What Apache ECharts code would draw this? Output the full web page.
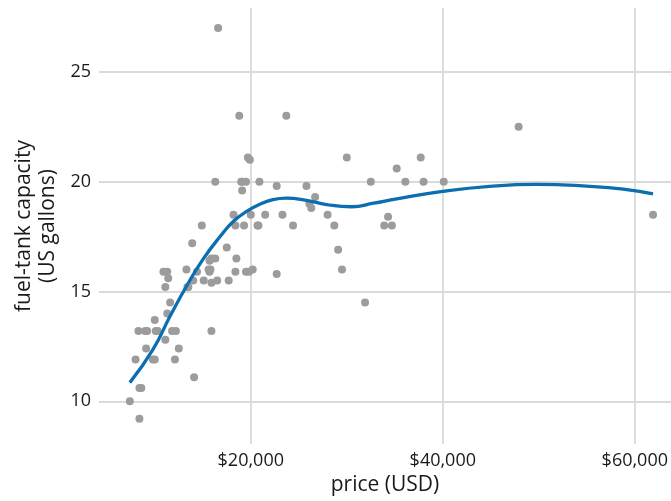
<!DOCTYPE html>
<html>
<head>
<meta charset="utf-8">
<script src="https://cdn.jsdelivr.net/npm/echarts@6/dist/echarts.min.js"></script>
<style>
html,body{margin:0;padding:0;background:#fff;}
#chart{width:671px;height:501px;}
</style>
</head>
<body>
<div id="chart"></div>
<script>
// Cars93: price (thousands USD) and fuel-tank capacity (US gallons)
const price = [15.9,33.9,29.1,37.7,30.0,15.7,20.8,23.7,26.3,34.7,40.1,13.4,11.4,15.1,15.9,16.3,16.6,18.8,38.0,18.4,15.8,29.5,9.2,11.3,13.3,19.0,15.6,25.8,12.2,19.3,7.4,10.1,11.3,15.9,14.0,19.9,20.2,20.9,8.4,12.5,19.8,12.1,17.5,8.0,10.0,10.0,13.9,47.9,28.0,35.2,34.3,36.1,8.3,11.6,16.5,19.1,32.5,31.9,61.9,14.1,14.9,10.3,26.1,11.8,15.7,19.1,21.5,13.5,16.3,19.5,20.7,14.4,9.0,11.1,17.7,18.5,24.4,28.7,11.1,8.4,10.9,19.5,8.6,9.8,18.4,18.2,22.7,9.1,19.7,20.0,23.3,22.7,26.7];
const fuelTank = [13.2,18.0,16.9,21.1,21.1,16.4,18.0,23.0,18.8,18.0,20.0,15.2,15.6,15.5,16.5,20.0,27.0,23.0,20.0,18.0,16.0,16.0,13.2,14.0,16.0,20.0,16.0,19.8,13.2,18.0,10.0,13.2,15.9,15.4,15.5,21.0,16.0,20.0,10.6,12.4,15.9,11.9,17.0,11.9,13.7,11.9,17.2,22.5,18.5,20.6,18.4,20.0,13.2,14.5,15.5,19.6,20.0,14.5,18.5,11.1,18.0,13.2,19.0,13.2,15.9,20.0,18.5,15.2,16.5,20.0,18.0,15.9,13.2,15.2,15.5,16.5,18.0,18.0,12.8,9.2,15.9,15.9,10.6,11.9,15.9,18.5,19.8,12.4,21.1,18.5,18.5,15.8,19.3];
// smoothed trend
const smoothPrice = [7.4,9.8,11.6,13.3,15.0,16.8,18.2,19.7,21.0,22.3,23.7,25.8,27.9,30.5,32.8,35.2,40.0,44.9,49.8,55.3,58.8,61.9];
const smoothFuel  = [10.85,12.35,13.88,15.24,16.45,17.5,18.2,18.68,18.98,19.18,19.25,19.15,18.96,18.86,19.02,19.22,19.56,19.79,19.88,19.79,19.66,19.44];
const xTicks = [20, 40, 60];
const yTicks = [10, 15, 20, 25];

const font = '"Open Sans", "DejaVu Sans", sans-serif';
const gridColor = '#dadada';
const chart = echarts.init(document.getElementById('chart'), null, {renderer: 'canvas'});
chart.setOption({
  animation: false,
  backgroundColor: '#ffffff',
  grid: {left: 99, right: 0, top: 8, bottom: 56, containLabel: false},
  xAxis: {
    type: 'value', min: 4.19, max: 63.77,
    name: 'price (USD)', nameLocation: 'middle', nameGap: 29,
    nameTextStyle: {fontFamily: font, fontSize: 21, color: '#1a1a1a'},
    axisLine: {show: false},
    axisTick: {show: false, customValues: xTicks},
    axisLabel: {customValues: xTicks, margin: 8, fontFamily: font, fontSize: 18, color: '#1a1a1a',
      formatter: v => '$' + Math.round(v * 1000).toLocaleString('en-US')},
    splitLine: {show: true, lineStyle: {color: gridColor, width: 1.8}}
  },
  yAxis: {
    type: 'value', min: 8.05, max: 27.91,
    name: 'fuel-tank capacity\n(US gallons)', nameLocation: 'middle', nameGap: 38,
    nameTextStyle: {fontFamily: font, fontSize: 21, color: '#1a1a1a', lineHeight: 24, align: 'center'},
    axisLine: {show: false},
    axisTick: {show: false, customValues: yTicks},
    axisLabel: {customValues: yTicks, margin: 8, fontFamily: font, fontSize: 18, color: '#1a1a1a'},
    splitLine: {show: true, lineStyle: {color: gridColor, width: 1.8}}
  },
  series: [
    {
      type: 'scatter',
      data: price.map((p, i) => [p, fuelTank[i]]),
      symbolSize: 8,
      itemStyle: {color: '#9c9c9c', opacity: 1},
      z: 2
    },
    {
      type: 'line',
      data: smoothPrice.map((p, i) => [p, smoothFuel[i]]),
      smooth: 0.5,
      showSymbol: false,
      lineStyle: {color: '#0a6eb0', width: 3.3},
      z: 3
    }
  ]
});
</script>
</body>
</html>
